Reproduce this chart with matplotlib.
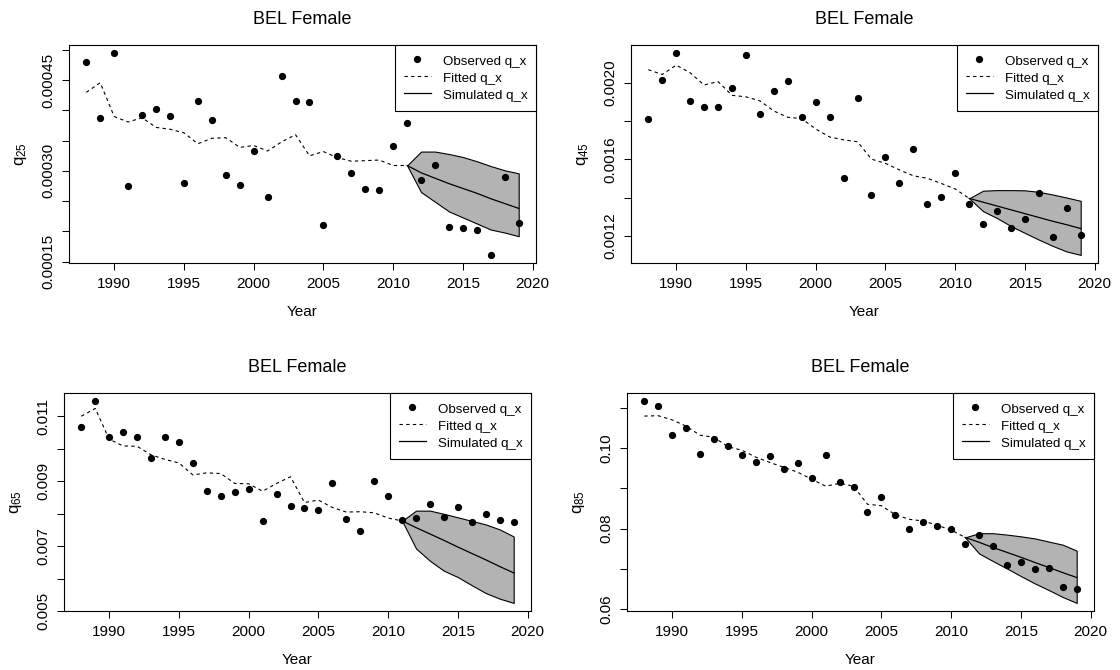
import numpy as np
import matplotlib
matplotlib.use("Agg")
import matplotlib.pyplot as plt
from matplotlib.ticker import FormatStrFormatter

plt.rcParams['font.family'] = ['Liberation Sans', 'DejaVu Sans']

years = list(range(1988, 2020))
sim_years = list(range(2011, 2020))

# age 25
obs_q25 = [0.000481, 0.000388, 0.000495, 0.000275, 0.000393, 0.000402, 0.000391, 0.000280,
           0.000416, 0.000385, 0.000294, 0.000277, 0.000333, 0.000257, 0.000457, 0.000416,
           0.000414, 0.000210, 0.000325, 0.000296, 0.000270, 0.000269, 0.000342, 0.000379,
           0.000285, 0.000309, 0.000208, 0.000205, 0.000202, 0.000161, 0.000290, 0.000214]
fit_q25 = [0.000430, 0.000446, 0.000390, 0.000381, 0.000388, 0.000372, 0.000369, 0.000363,
           0.000345, 0.000354, 0.000355, 0.000339, 0.000342, 0.000333, 0.000348, 0.000360,
           0.000325, 0.000332, 0.000322, 0.000316, 0.000317, 0.000318, 0.000309, 0.000309]
sim_q25 = [0.000309, 0.000297, 0.000288, 0.000279, 0.000271, 0.000263, 0.000254, 0.000246, 0.000238]
sim_q25_hi = [0.000309, 0.000332, 0.000332, 0.000328, 0.000323, 0.000316, 0.000308, 0.000301, 0.000296]
sim_q25_lo = [0.000309, 0.000265, 0.000249, 0.000233, 0.000223, 0.000213, 0.000203, 0.000198, 0.000192]

# age 45
obs_q45 = [0.001810, 0.002015, 0.002156, 0.001907, 0.001873, 0.001873, 0.001971, 0.002145,
           0.001839, 0.001958, 0.002011, 0.001824, 0.001898, 0.001820, 0.001505, 0.001920,
           0.001412, 0.001612, 0.001476, 0.001655, 0.001365, 0.001401, 0.001528, 0.001367,
           0.001263, 0.001331, 0.001242, 0.001287, 0.001423, 0.001193, 0.001347, 0.001202]
fit_q45 = [0.002069, 0.002044, 0.002093, 0.002053, 0.001989, 0.002007, 0.001935, 0.001927,
           0.001906, 0.001853, 0.001820, 0.001813, 0.001759, 0.001717, 0.001702, 0.001692,
           0.001601, 0.001579, 0.001545, 0.001514, 0.001501, 0.001474, 0.001445, 0.001396]
sim_q45 = [0.001396, 0.001376, 0.001356, 0.001336, 0.001316, 0.001296, 0.001276, 0.001258, 0.001238]
sim_q45_hi = [0.001396, 0.001436, 0.001439, 0.001439, 0.001438, 0.001430, 0.001416, 0.001400, 0.001383]
sim_q45_lo = [0.001396, 0.001329, 0.001293, 0.001251, 0.001215, 0.001180, 0.001147, 0.001118, 0.001100]

# age 65
obs_q65 = [0.010673, 0.011468, 0.010368, 0.010521, 0.010346, 0.009704, 0.010346, 0.010216,
           0.009551, 0.008712, 0.008538, 0.008680, 0.008756, 0.007776, 0.008593, 0.008244,
           0.008168, 0.008102, 0.008952, 0.007830, 0.007471, 0.009007, 0.008549, 0.007797,
           0.007863, 0.008309, 0.007906, 0.008190, 0.007754, 0.008004, 0.007819, 0.007732]
fit_q65 = [0.011000, 0.011240, 0.010292, 0.010085, 0.010074, 0.009813, 0.009671, 0.009562,
           0.009192, 0.009257, 0.009235, 0.008930, 0.008919, 0.008691, 0.008930, 0.009137,
           0.008342, 0.008418, 0.008190, 0.008048, 0.008059, 0.008026, 0.007863, 0.007776]
sim_q65 = [0.007776, 0.007569, 0.007373, 0.007176, 0.006970, 0.006773, 0.006577, 0.006370, 0.006174]
sim_q65_hi = [0.007776, 0.008092, 0.008092, 0.007993, 0.007885, 0.007776, 0.007667, 0.007514, 0.007296]
sim_q65_lo = [0.007776, 0.006926, 0.006545, 0.006240, 0.006044, 0.005793, 0.005553, 0.005380, 0.005249]

# age 85
obs_q85 = [0.11170, 0.11057, 0.10338, 0.10494, 0.09844, 0.10217, 0.10061, 0.09818,
           0.09645, 0.09809, 0.09480, 0.09627, 0.09263, 0.09818, 0.09168, 0.09038,
           0.08423, 0.08795, 0.08345, 0.07990, 0.08154, 0.08076, 0.07981, 0.07617,
           0.07842, 0.07556, 0.07106, 0.07175, 0.07002, 0.07028, 0.06542, 0.06508]
fit_q85 = [0.10797, 0.10806, 0.10702, 0.10546, 0.10321, 0.10269, 0.10035, 0.09948,
           0.09775, 0.09645, 0.09523, 0.09402, 0.09229, 0.09055, 0.09125, 0.09055,
           0.08605, 0.08570, 0.08345, 0.08232, 0.08189, 0.08085, 0.07964, 0.07782]
sim_q85 = [0.07782, 0.07660, 0.07530, 0.07409, 0.07288, 0.07158, 0.07036, 0.06906, 0.06785]
sim_q85_hi = [0.07782, 0.07886, 0.07886, 0.07851, 0.07808, 0.07756, 0.07678, 0.07600, 0.07452]
sim_q85_lo = [0.07782, 0.07383, 0.07192, 0.07010, 0.06820, 0.06638, 0.06473, 0.06300, 0.06153]

x_ticks = [1990, 1995, 2000, 2005, 2010, 2015, 2020]


def draw_panel(ax, obs, fit, sim, lo, hi, age, major, minor, fmt):
    ax.fill_between(sim_years, lo, hi, facecolor='#b3b3b3', edgecolor='black', linewidth=0.8)
    ax.plot(years, obs, 'o', color='black', markersize=4.2, label='Observed q_x')
    ax.plot(years[:len(fit)], fit, color='black', linestyle=(0, (3, 3)), linewidth=0.8, label='Fitted q_x')
    ax.plot(sim_years, sim, color='black', linewidth=0.9, label='Simulated q_x')
    ax.margins(x=0.04, y=0.04)
    ax.set_xticks(x_ticks)
    ax.set_yticks(major)
    ax.set_yticks(minor, minor=True)
    ax.yaxis.set_major_formatter(FormatStrFormatter(fmt))
    ax.tick_params(which='both', direction='out', length=5, width=0.75, labelsize=11)
    ax.tick_params(axis='x', pad=5)
    ax.tick_params(axis='y', pad=5)
    for lab in ax.get_yticklabels():
        lab.set_rotation(90)
        lab.set_va('center')
    for s in ax.spines.values():
        s.set_linewidth(0.8)
    ax.set_title('BEL Female', fontsize=13, pad=15)
    ax.set_xlabel('Year', fontsize=11, labelpad=10)
    ax.set_ylabel(r'$\mathregular{q_{%d}}$' % age, fontsize=12)
    ax.yaxis.set_label_coords(-0.086, 0.5)
    leg = ax.legend(loc='upper right', borderaxespad=0, fancybox=False, framealpha=1,
                    edgecolor='black', fontsize=9.6, handlelength=2.0, handleheight=1.2,
                    labelspacing=0.2, borderpad=0.65, handletextpad=0.9)
    leg.get_frame().set_linewidth(0.8)


fig = plt.figure(figsize=(11.2, 6.7), dpi=100)
w = 467 / 1120
h = 218 / 670
ax1 = fig.add_axes([69 / 1120, 1 - 263 / 670, w, h])
ax2 = fig.add_axes([631 / 1120, 1 - 263 / 670, w, h])
ax3 = fig.add_axes([64 / 1120, 1 - 611 / 670, w, h])
ax4 = fig.add_axes([627 / 1120, 1 - 611 / 670, w, h])

draw_panel(ax1, obs_q25, fit_q25, sim_q25, sim_q25_lo, sim_q25_hi, 25,
           [0.00015, 0.00030, 0.00045], [0.00020, 0.00025, 0.00035, 0.00040, 0.00050], '%.5f')
draw_panel(ax2, obs_q45, fit_q45, sim_q45, sim_q45_lo, sim_q45_hi, 45,
           [0.0012, 0.0016, 0.0020], [0.0014, 0.0018], '%.4f')
draw_panel(ax3, obs_q65, fit_q65, sim_q65, sim_q65_lo, sim_q65_hi, 65,
           [0.005, 0.007, 0.009, 0.011], [0.006, 0.008, 0.010], '%.3f')
draw_panel(ax4, obs_q85, fit_q85, sim_q85, sim_q85_lo, sim_q85_hi, 85,
           [0.06, 0.08, 0.10], [0.07, 0.09, 0.11], '%.2f')

fig.savefig('out.png', dpi=100)
